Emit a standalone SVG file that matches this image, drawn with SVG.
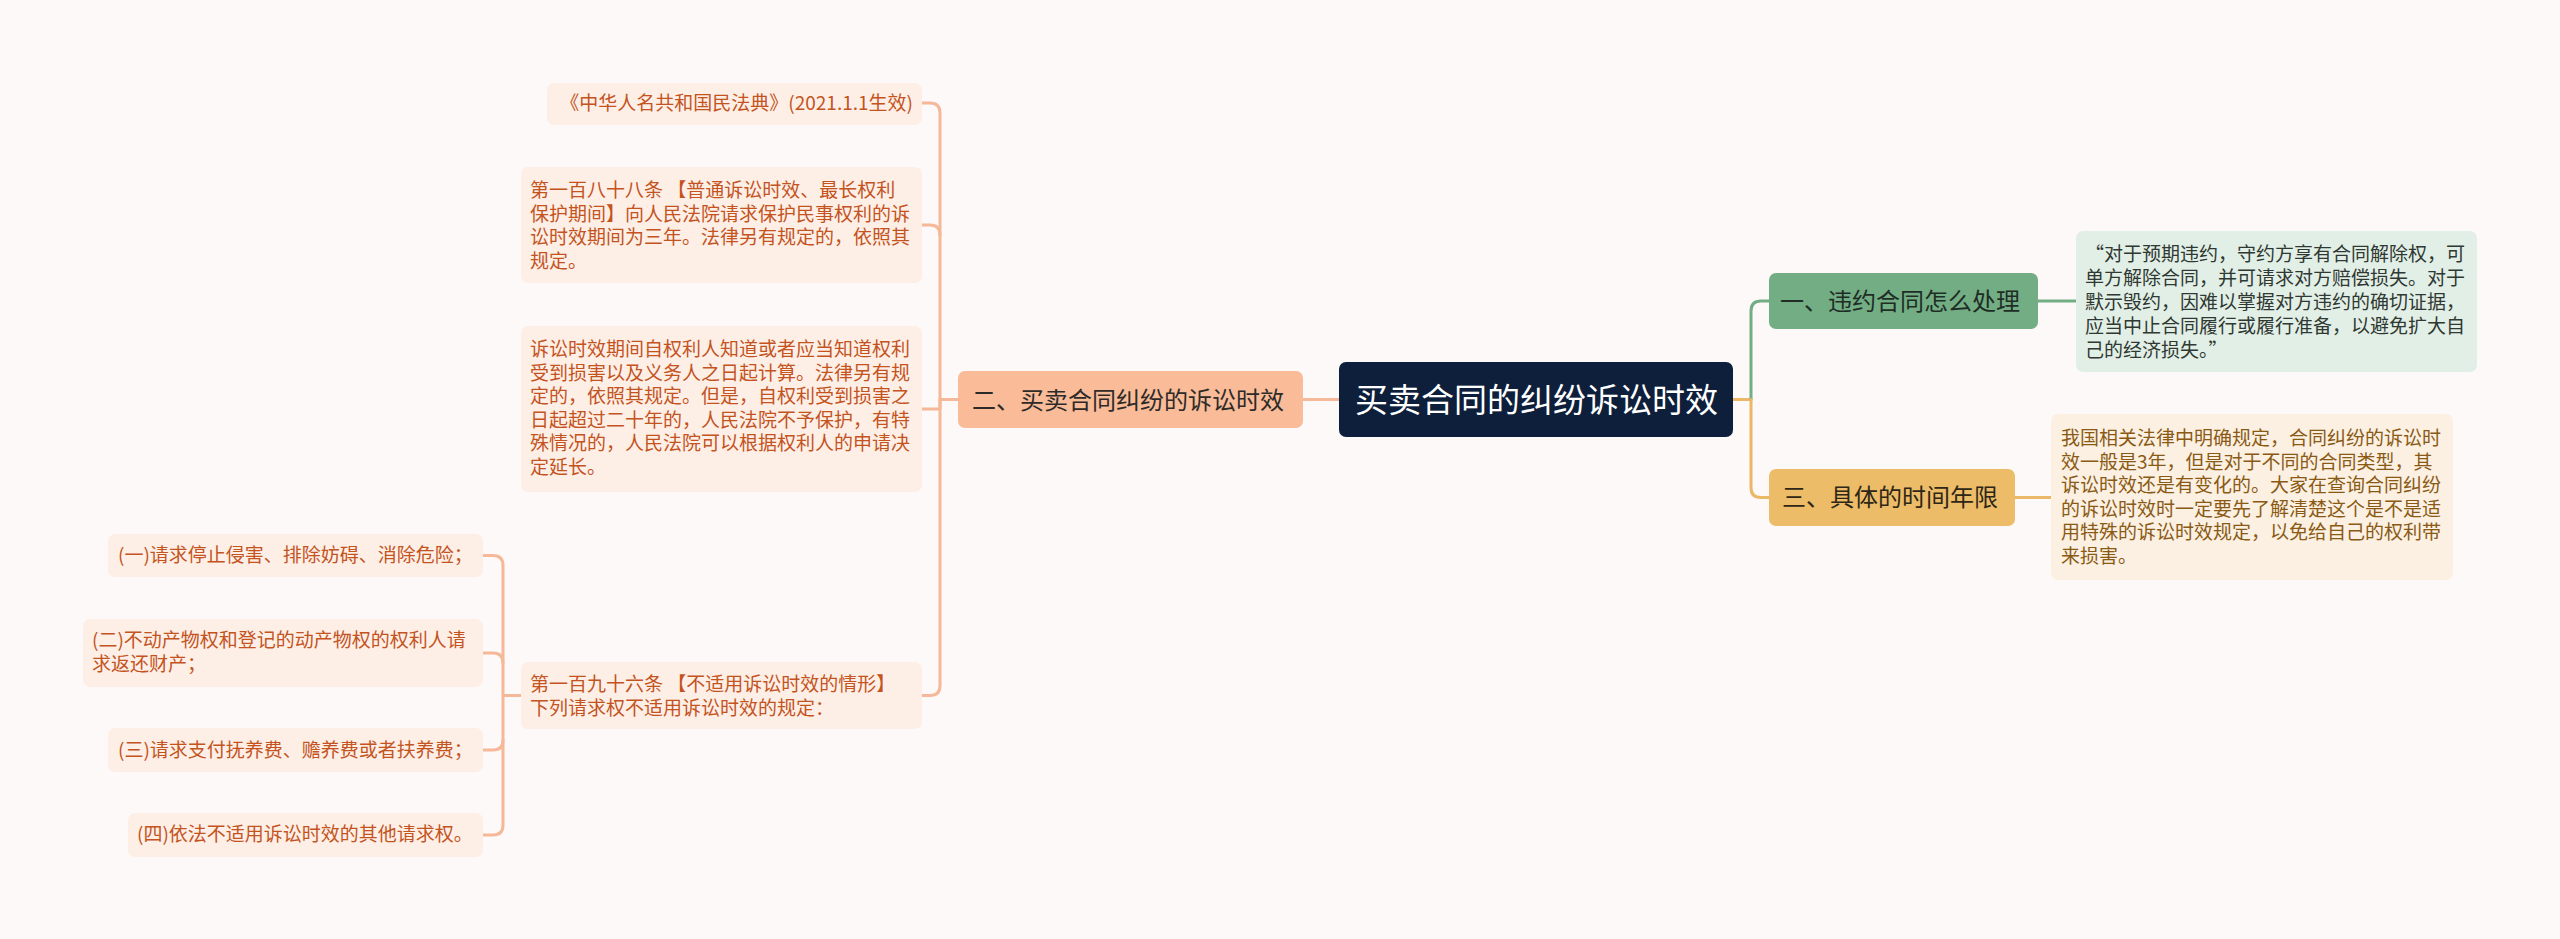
<svg xmlns="http://www.w3.org/2000/svg" width="2560" height="939" viewBox="0 0 2560 939">
<style>
text{font-family:"Noto Sans CJK SC","Noto Sans",sans-serif;}
.leaf{fill:#fdefe6;}
.lt{fill:#c4531e;font-size:19px;}
.c{fill:none;stroke-width:3;stroke-linecap:round;stroke-linejoin:round;}
.co{stroke:#f5b898;}
.cg{stroke:#72ad84;}
.cy{stroke:#eab866;}
</style>
<rect width="2560" height="939" fill="#fdf9f8"/>
<g id="connectors">
<path class="c co" d="M1339 399.5 H1303"/>
<path class="c co" d="M958 399.5 H940 V113 Q940 103 930 103 H922"/>
<path class="c co" d="M940 235 Q940 225 930 225 H922"/>
<path class="c co" d="M940 399.5 V409 H922"/>
<path class="c co" d="M940 399.5 V685.5 Q940 695.5 930 695.5 H922"/>
<path class="c co" d="M521 695.5 H503 V565.5 Q503 555.5 493 555.5 H483"/>
<path class="c co" d="M503 663 Q503 653 493 653 H483"/>
<path class="c co" d="M503 695.5 V825 Q503 835 493 835 H483"/>
<path class="c co" d="M503 740 Q503 750 493 750 H483"/>
<path class="c cy" d="M1733 399.5 H1751"/>
<path class="c cg" d="M1751 399.5 V311 Q1751 301 1761 301 H1769"/>
<path class="c cy" d="M1751 399.5 V487.5 Q1751 497.5 1761 497.5 H1769"/>
<path class="c cg" d="M2038 301 H2076"/>
<path class="c cy" d="M2015 497.5 H2051"/>
</g>
<g id="root">
<rect x="1339" y="362" width="394" height="75" rx="7" fill="#0e1f3b"/>
<text x="1355" y="412" fill="#ffffff" font-size="33">买卖合同的纠纷诉讼时效</text>
</g>
<g id="n2">
<rect x="958" y="371" width="345" height="57" rx="7" fill="#f9bb98"/>
<text x="972" y="409" fill="#2e2a28" font-size="24">二、买卖合同纠纷的诉讼时效</text>
</g>
<g id="n1">
<rect x="1769" y="273" width="269" height="56" rx="7" fill="#72ad84"/>
<text x="1780" y="310" fill="#1f2d24" font-size="24">一、违约合同怎么处理</text>
</g>
<g id="n3">
<rect x="1769" y="469" width="246" height="57" rx="7" fill="#ecbc68"/>
<text x="1782" y="506" fill="#2e2616" font-size="24">三、具体的时间年限</text>
</g>
<g id="n1-leaf">
<rect x="2076" y="231" width="401" height="141" rx="7" fill="#e2efe6"/>
<text fill="#2f3832" font-size="19"><tspan x="2085" y="261">“对于预期违约，守约方享有合同解除权，可</tspan><tspan x="2085" y="285">单方解除合同，并可请求对方赔偿损失。对于</tspan><tspan x="2085" y="309">默示毁约，因难以掌握对方违约的确切证据，</tspan><tspan x="2085" y="333">应当中止合同履行或履行准备，以避免扩大自</tspan><tspan x="2085" y="357">己的经济损失。”</tspan></text>
</g>
<g id="n3-leaf">
<rect x="2051" y="414" width="402" height="166" rx="7" fill="#fbf0e2"/>
<text fill="#8a5a14" font-size="19"><tspan x="2061" y="445">我国相关法律中明确规定，合同纠纷的诉讼时</tspan><tspan x="2061" y="468.5">效一般是3年，但是对于不同的合同类型，其</tspan><tspan x="2061" y="492">诉讼时效还是有变化的。大家在查询合同纠纷</tspan><tspan x="2061" y="515.5">的诉讼时效时一定要先了解清楚这个是不是适</tspan><tspan x="2061" y="539">用特殊的诉讼时效规定，以免给自己的权利带</tspan><tspan x="2061" y="562.5">来损害。</tspan></text>
</g>
<g id="l1">
<rect class="leaf" x="547" y="83" width="375" height="42" rx="7"/>
<text class="lt" x="913" y="110" text-anchor="end">《中华人名共和国民法典》(2021.1.1生效)</text>
</g>
<g id="l2">
<rect class="leaf" x="521" y="167" width="401" height="116" rx="7"/>
<text class="lt"><tspan x="530" y="197">第一百八十八条 【普通诉讼时效、最长权利</tspan><tspan x="530" y="220.5">保护期间】向人民法院请求保护民事权利的诉</tspan><tspan x="530" y="244">讼时效期间为三年。法律另有规定的，依照其</tspan><tspan x="530" y="267.5">规定。</tspan></text>
</g>
<g id="l3">
<rect class="leaf" x="521" y="326" width="401" height="166" rx="7"/>
<text class="lt"><tspan x="530" y="356">诉讼时效期间自权利人知道或者应当知道权利</tspan><tspan x="530" y="379.5">受到损害以及义务人之日起计算。法律另有规</tspan><tspan x="530" y="403">定的，依照其规定。但是，自权利受到损害之</tspan><tspan x="530" y="426.5">日起超过二十年的，人民法院不予保护，有特</tspan><tspan x="530" y="450">殊情况的，人民法院可以根据权利人的申请决</tspan><tspan x="530" y="473.5">定延长。</tspan></text>
</g>
<g id="l4">
<rect class="leaf" x="521" y="662" width="401" height="67" rx="7"/>
<text class="lt"><tspan x="530" y="691">第一百九十六条 【不适用诉讼时效的情形】</tspan><tspan x="530" y="714.5">下列请求权不适用诉讼时效的规定：</tspan></text>
</g>
<g id="s1">
<rect class="leaf" x="108" y="534" width="375" height="43" rx="7"/>
<text class="lt" x="118" y="562">(一)请求停止侵害、排除妨碍、消除危险；</text>
</g>
<g id="s2">
<rect class="leaf" x="83" y="619" width="400" height="68" rx="7"/>
<text class="lt"><tspan x="92" y="647">(二)不动产物权和登记的动产物权的权利人请</tspan><tspan x="92" y="671">求返还财产；</tspan></text>
</g>
<g id="s3">
<rect class="leaf" x="108" y="728" width="375" height="44" rx="7"/>
<text class="lt" x="118" y="757">(三)请求支付抚养费、赡养费或者扶养费；</text>
</g>
<g id="s4">
<rect class="leaf" x="128" y="813" width="355" height="44" rx="7"/>
<text class="lt" x="137" y="841">(四)依法不适用诉讼时效的其他请求权。</text>
</g>
</svg>
